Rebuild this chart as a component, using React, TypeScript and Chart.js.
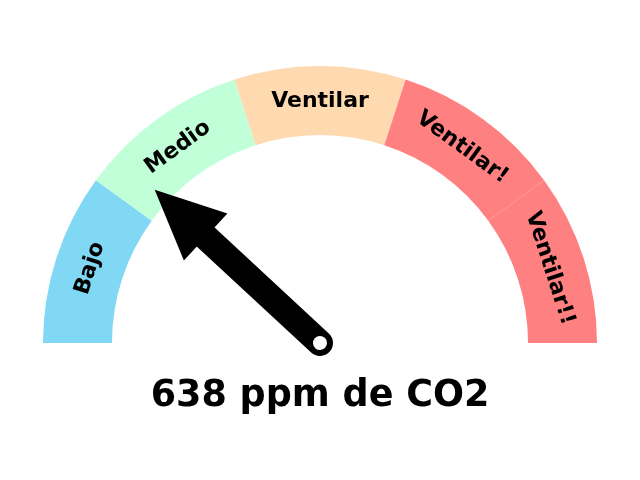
import React, { useEffect, useRef } from "react";
import { Chart, registerables, Plugin } from "chart.js";

Chart.register(...registerables);

// CO2 bands (ppm) and their labels / colours
const bandLabels = ["Bajo", "Medio", "Ventilar", "Ventilar!", "Ventilar!!"];
const bandLimits = [400, 600, 800, 1000, 1200, 1400];
const bandColors = ["#80d8f4", "#c0ffd8", "#ffdab0", "#ff8080", "#ff8080"];
const co2Value = 638;

const bandSizes = bandLabels.map((_, i) => bandLimits[i + 1] - bandLimits[i]);
const FONT = "'DejaVu Sans', 'Liberation Sans', sans-serif";

const gaugePlugin: Plugin<"doughnut"> = {
  id: "gaugeDecor",
  afterDraw(chart) {
    const ctx = chart.ctx;
    const meta = chart.getDatasetMeta(0);
    const arcs = meta.data as any[];
    if (!arcs.length) return;
    const first = arcs[0].getProps(["x", "y", "innerRadius", "outerRadius"], true);
    const cx = first.x;
    const cy = first.y;
    const outer = first.outerRadius;
    const inner = first.innerRadius;

    // labels along the arc
    ctx.save();
    ctx.fillStyle = "#000";
    ctx.font = `bold 22px ${FONT}`;
    ctx.textAlign = "center";
    ctx.textBaseline = "alphabetic";
    arcs.forEach((arc, i) => {
      const p = arc.getProps(["startAngle", "endAngle"], true);
      const mid = (p.startAngle + p.endAngle) / 2;
      const rad = (outer + inner) / 2 + 1.5;
      ctx.save();
      ctx.translate(cx + Math.cos(mid) * rad, cy + Math.sin(mid) * rad);
      ctx.rotate(mid + Math.PI / 2);
      ctx.fillText(bandLabels[i], 0, 8);
      ctx.restore();
    });
    ctx.restore();

    // needle
    const lo = bandLimits[0];
    const hi = bandLimits[bandLimits.length - 1];
    const frac = (co2Value - lo) / (hi - lo);
    const angle = Math.PI + frac * Math.PI;
    const tip = outer * 0.814;
    const headBase = outer * 0.563;
    const headHalf = outer * 0.1155;

    ctx.save();
    ctx.translate(cx, cy);
    ctx.rotate(angle);
    ctx.strokeStyle = "#000";
    ctx.fillStyle = "#000";
    ctx.lineWidth = 26;
    ctx.lineCap = "round";
    ctx.beginPath();
    ctx.moveTo(0, 0);
    ctx.lineTo(headBase + 2, 0);
    ctx.stroke();
    ctx.beginPath();
    ctx.moveTo(headBase, -headHalf);
    ctx.lineTo(tip, 0);
    ctx.lineTo(headBase, headHalf);
    ctx.closePath();
    ctx.fill();
    ctx.fillStyle = "#fff";
    ctx.beginPath();
    ctx.arc(0, 0, 7, 0, Math.PI * 2);
    ctx.fill();
    ctx.restore();

    // reading
    ctx.save();
    ctx.fillStyle = "#000";
    ctx.font = `bold 36.5px ${FONT}`;
    ctx.textAlign = "center";
    ctx.textBaseline = "alphabetic";
    ctx.fillText(`${co2Value} ppm de CO2`, cx, 406);
    ctx.restore();
  },
};

const Gauge: React.FC = () => {
  const canvasRef = useRef<HTMLCanvasElement>(null);
  const chartInstance = useRef<Chart<"doughnut"> | null>(null);

  useEffect(() => {
    if (!canvasRef.current) return;
    const ctx = canvasRef.current.getContext("2d");
    if (!ctx) return;
    if (chartInstance.current) chartInstance.current.destroy();

    chartInstance.current = new Chart(ctx, {
      type: "doughnut",
      data: {
        labels: bandLabels,
        datasets: [
          {
            data: bandSizes,
            backgroundColor: bandColors,
            borderWidth: 0,
            hoverOffset: 0,
            offset: 0,
          },
        ],
      },
      options: {
        responsive: false,
        animation: false,
        rotation: -90,
        circumference: 180,
        cutout: "75.1%",
        layout: { padding: { left: 43, right: 43, top: 66, bottom: 137 } },
        plugins: {
          legend: { display: false },
          tooltip: { enabled: false },
        },
        events: [],
      },
      plugins: [gaugePlugin],
    });

    return () => {
      if (chartInstance.current) {
        chartInstance.current.destroy();
        chartInstance.current = null;
      }
    };
  }, []);

  return <canvas ref={canvasRef} width={640} height={480} />;
};

export default function App() {
  return (
    <div style={{ position: "fixed", left: 0, top: 0, width: 640, height: 480, background: "#fff" }}>
      <Gauge />
    </div>
  );
}
